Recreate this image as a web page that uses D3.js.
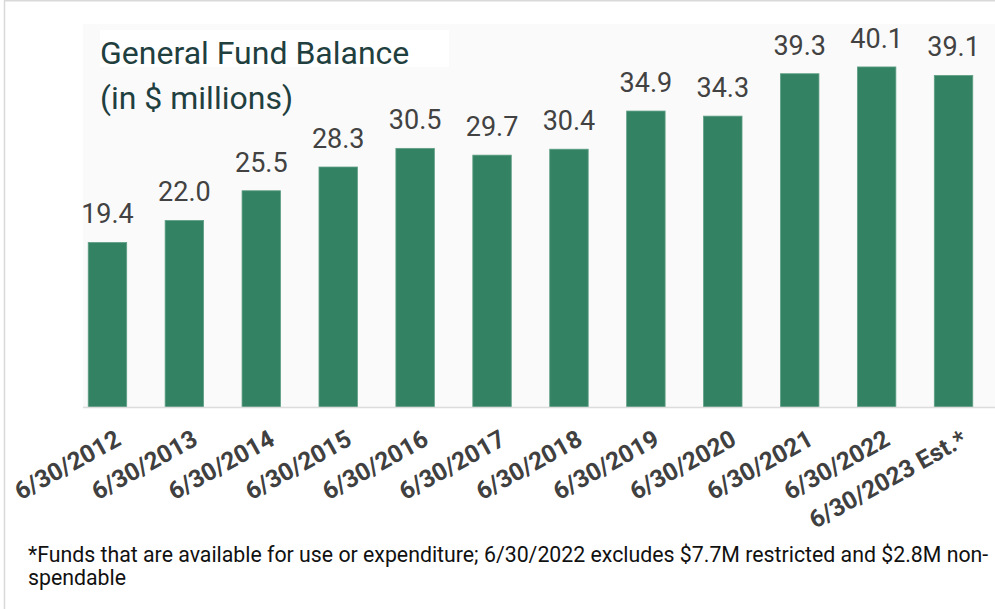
<!DOCTYPE html>
<html>
<head>
<meta charset="utf-8">
<script src="https://cdn.jsdelivr.net/npm/d3@7"></script>
<style>
  html, body { margin: 0; padding: 0; background: #fff; }
  svg { display: block; font-family: Roboto, "Noto Sans", sans-serif; }
</style>
</head>
<body>
<svg id="chart" width="995" height="609"></svg>
<script>
const categories = ["6/30/2012","6/30/2013","6/30/2014","6/30/2015","6/30/2016","6/30/2017","6/30/2018","6/30/2019","6/30/2020","6/30/2021","6/30/2022","6/30/2023 Est.*"];
const balances = [19.4, 22.0, 25.5, 28.3, 30.5, 29.7, 30.4, 34.9, 34.3, 39.3, 40.1, 39.1];
const titleLines = ["General Fund Balance", "(in $ millions)"];
const footnoteLines = ["*Funds that are available for use or expenditure; 6/30/2022 excludes $7.7M restricted and $2.8M non-", "spendable"];

const W = 995, H = 609;
const svg = d3.select("#chart");

// outer frame
svg.append("line").attr("x1", 4.5).attr("x2", 4.5).attr("y1", 0).attr("y2", H)
  .attr("stroke", "#d9d9d9").attr("stroke-width", 1.5);
svg.append("line").attr("x1", 4).attr("x2", W).attr("y1", 0.75).attr("y2", 0.75)
  .attr("stroke", "#d9d9d9").attr("stroke-width", 1.5);

const plot = { left: 83, top: 24, right: W, bottom: 407 };
svg.append("rect").attr("x", plot.left).attr("y", plot.top)
  .attr("width", plot.right - plot.left).attr("height", plot.bottom - plot.top)
  .attr("fill", "#fafafa");

const x = d3.scaleBand().domain(categories).range([69, 992]).paddingInner(0.5).paddingOuter(0.25);
const y = d3.scaleLinear().domain([0, 45]).range([plot.bottom, plot.bottom - 45 * 8.48]);

// bars
svg.append("g").selectAll("rect").data(balances).join("rect")
  .attr("x", (d, i) => x(categories[i]))
  .attr("y", d => y(d))
  .attr("width", x.bandwidth())
  .attr("height", d => y(0) - y(d))
  .attr("fill", "#338263")
  .attr("stroke", "#5f9f85").attr("stroke-width", 0.8);

// value labels
svg.append("g").selectAll("text").data(balances).join("text")
  .attr("x", (d, i) => x(categories[i]) + x.bandwidth() / 2)
  .attr("y", d => y(d) - 19)
  .attr("text-anchor", "middle")
  .attr("font-size", 27)
  .attr("fill", "#424242")
  .text(d => d.toFixed(1));

// baseline
svg.append("line").attr("x1", plot.left).attr("x2", plot.right)
  .attr("y1", plot.bottom + 0.5).attr("y2", plot.bottom + 0.5)
  .attr("stroke", "#dcdcdc").attr("stroke-width", 1.5);

// x axis
const xAxis = svg.append("g").attr("transform", `translate(0,${plot.bottom})`)
  .call(d3.axisBottom(x).tickSize(0));
xAxis.select(".domain").remove();
xAxis.selectAll("text")
  .attr("x", 0).attr("y", 0).attr("dy", 0)
  .attr("text-anchor", "end")
  .attr("transform", "translate(15,37) rotate(-29)")
  .attr("font-family", "Roboto, sans-serif")
  .attr("font-size", 24.5)
  .attr("font-weight", "bold")
  .attr("fill", "#404040");

// title
svg.append("rect").attr("x", 100).attr("y", 30).attr("width", 349).attr("height", 37).attr("fill", "#ffffff");
svg.append("g").selectAll("text").data(titleLines).join("text")
  .attr("x", 100).attr("y", (d, i) => 64 + i * 45)
  .attr("font-size", 32)
  .attr("fill", "#1f403f")
  .text(d => d);

// footnote
svg.append("g").selectAll("text").data(footnoteLines).join("text")
  .attr("x", 28).attr("y", (d, i) => 562 + i * 23)
  .attr("font-size", 21.3)
  .attr("fill", "#111")
  .text(d => d);
</script>
</body>
</html>
